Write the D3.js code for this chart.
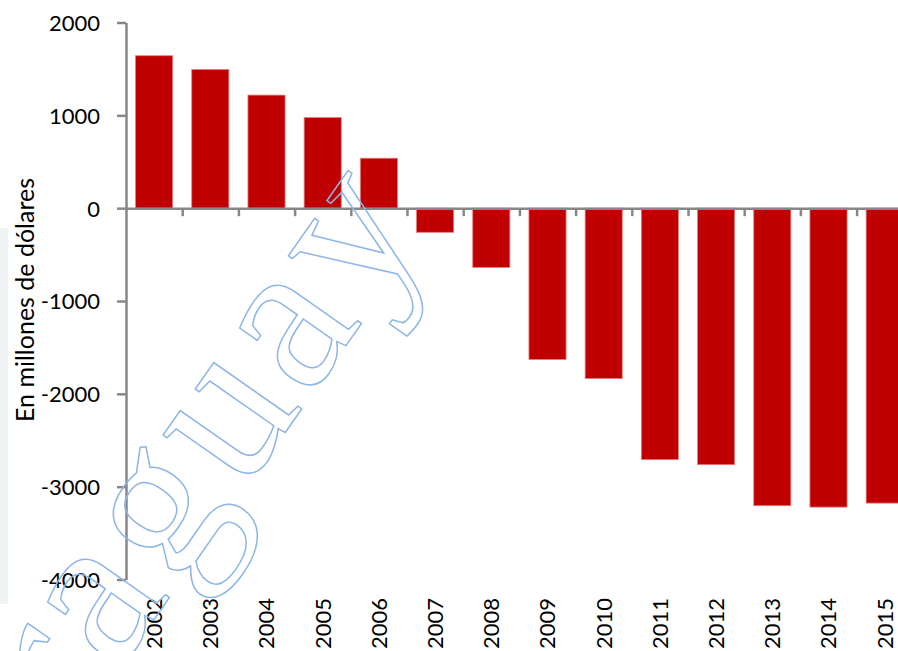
<!DOCTYPE html>
<html>
<head>
<meta charset="utf-8">
<script src="https://cdn.jsdelivr.net/npm/d3@7"></script>
<style>
  body { margin: 0; background: #fff; }
  svg { display: block; }
  .axis text { font-family: Lato, "Open Sans", sans-serif; font-size: 22px; fill: #000; }
  .axis path, .axis line { stroke: #878787; stroke-width: 2.5px; }
</style>
</head>
<body>
<div class="chart"></div>
<script>
var years = ["2002", "2003", "2004", "2005", "2006", "2007", "2008",
             "2009", "2010", "2011", "2012", "2013", "2014", "2015"];
var balance = [1642, 1494, 1218, 976, 538, -260, -638,
               -1630, -1835, -2709, -2763, -3205, -3220, -3177];
var yTicks = [2000, 1000, 0, -1000, -2000, -3000, -4000];
var yTitle = "En millones de dólares";
var watermark = "Paraguay";

var svgWidth = 898;
var svgHeight = 651;

var svg = d3.select(".chart")
  .append("svg")
  .attr("width", svgWidth)
  .attr("height", svgHeight);

// faint strip on the left edge
svg.append("rect")
  .attr("x", 0).attr("y", 228)
  .attr("width", 8).attr("height", 376)
  .attr("fill", "#eef2f3");

var axisX = 126;
var step = 56.2;

var y = d3.scaleLinear()
  .domain([-4000, 2000])
  .range([579.5, 22.5]);

var x = d3.scaleBand()
  .domain(years)
  .range([axisX, axisX + step * years.length])
  .paddingInner(0.34)
  .paddingOuter(0.17);

// bars
svg.append("g")
  .selectAll("rect")
  .data(years)
  .enter()
  .append("rect")
  .attr("x", d => x(d))
  .attr("width", x.bandwidth())
  .attr("y", (d, i) => y(Math.max(0, balance[i])))
  .attr("height", (d, i) => Math.abs(y(balance[i]) - y(0)))
  .attr("fill", "#c00000")
  .attr("stroke", "#e57b7b")
  .attr("stroke-width", 0.8);

// y axis (plain hyphen for negatives, like the original)
var leftAxis = d3.axisLeft(y)
  .tickValues(yTicks)
  .tickSize(9)
  .tickSizeOuter(0)
  .tickPadding(17)
  .tickFormat(d => String(d));

svg.append("g")
  .attr("class", "axis")
  .attr("transform", `translate(${axisX}, 0)`)
  .call(leftAxis)
  .selectAll("text").attr("dy", "0.36em");

// zero line with ticks between categories
var bounds = d3.scaleLinear()
  .domain([0, years.length])
  .range([axisX, axisX + step * years.length]);

svg.append("g")
  .attr("class", "axis")
  .attr("transform", `translate(0, ${y(0)})`)
  .call(d3.axisBottom(bounds)
    .tickValues(d3.range(1, years.length + 1))
    .tickSize(8)
    .tickSizeOuter(0)
    .tickFormat(""));

// year labels, rotated
var xAxis = svg.append("g")
  .attr("class", "axis")
  .attr("transform", "translate(0, 598)")
  .call(d3.axisBottom(x).tickSize(0).tickPadding(0));
xAxis.select(".domain").remove();
xAxis.selectAll("text")
  .attr("transform", "rotate(-90)")
  .attr("text-anchor", "end")
  .attr("x", 0)
  .attr("y", 0)
  .attr("dx", 0)
  .attr("dy", "0.36em");

// y title
svg.append("text")
  .attr("transform", "translate(34, 300) rotate(-90)")
  .attr("text-anchor", "middle")
  .style("font-family", "Lato, 'Open Sans', sans-serif")
  .style("font-size", "25px")
  .text(yTitle);

// watermark, outlined and tilted
svg.append("text")
  .attr("transform", "translate(434, 220) rotate(-55)")
  .attr("text-anchor", "end")
  .style("font-family", "'Liberation Serif', 'DejaVu Serif', serif")
  .style("font-size", "215px")
  .style("letter-spacing", "8px")
  .attr("fill", "none")
  .attr("stroke", "#8db6e6")
  .attr("stroke-width", 1.5)
  .text(watermark);
</script>
</body>
</html>
